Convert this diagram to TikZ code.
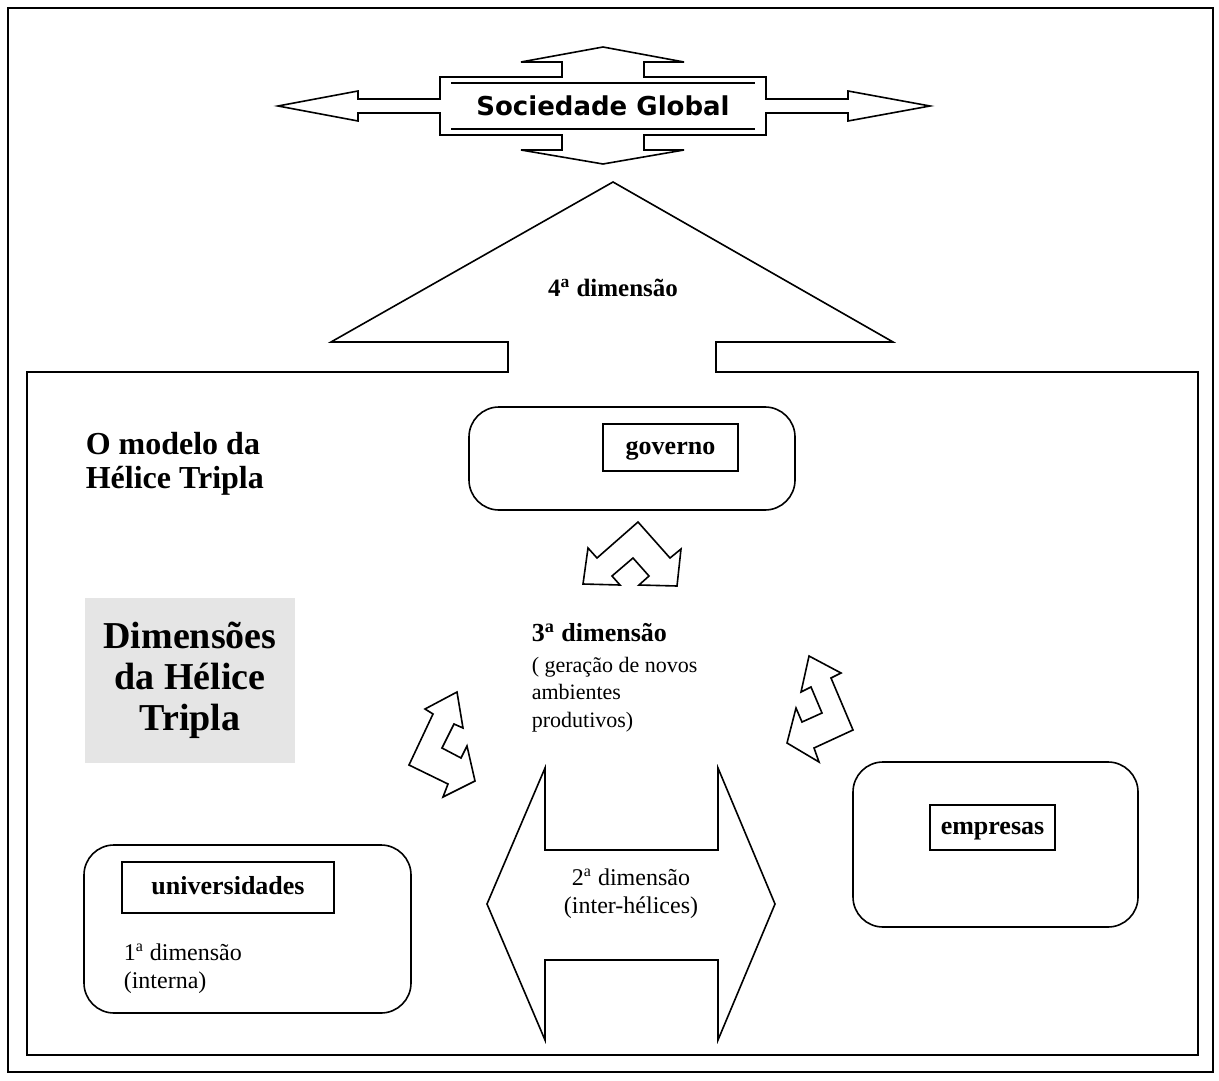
\documentclass[tikz,border=0pt]{standalone}
\usepackage{fontspec}
\setmainfont{Liberation Serif}
\newfontfamily\globalfont{DejaVu Sans}
\newcommand{\ord}{\textsuperscript{a}}

\begin{document}
\begin{tikzpicture}[x=0.5pt,y=-0.5pt,line width=0.8pt,line join=miter,
    helix/.style={rectangle,draw,rounded corners=15pt,inner sep=0pt},
    tagbox/.style={rectangle,draw,inner sep=0pt,text height=1.6ex,text depth=0.1ex,
      font=\fontsize{13}{15}\selectfont\bfseries},
    plain/.style={inner sep=0pt,font=\fontsize{12}{13.8}\selectfont}]
    \useasboundingbox (0,0) rectangle (1219,1080);
    % frames
    \draw (8,8) rectangle (1213,1072);
    \draw (27,372) -- (508,372) -- (508,342) -- (331,342) -- (613,182) -- (893,342)
      -- (716,342) -- (716,372) -- (1198,372) -- (1198,1055) -- (27,1055) -- cycle;
    % sociedade global
    \draw (278,106) -- (358,91) -- (358,99) -- (440,99) -- (440,77) -- (562,77) -- (562,62)
      -- (521,62) -- (603,47) -- (684,62) -- (644,62) -- (644,77) -- (766,77) -- (766,99)
      -- (848,99) -- (848,91) -- (930,106) -- (848,121) -- (848,113) -- (766,113) -- (766,135)
      -- (644,135) -- (644,150) -- (684,150) -- (603,164) -- (521,150) -- (562,150)
      -- (562,135) -- (440,135) -- (440,113) -- (358,113) -- (358,121) -- cycle;
    \draw (451,83) -- (755,83);
    \draw (451,129) -- (755,129);
    \node (soc) at (603,106) [font=\globalfont\bfseries\fontsize{13}{15}\selectfont] {Sociedade Global};
    \node (d4) at (613,288) [font=\fontsize{12.5}{15}\selectfont\bfseries] {4\ord{} dimensão};
    % titles
    \node (modelo) at (85,431) [anchor=north west,align=left,inner sep=0pt,
      font=\fontsize{16}{17}\selectfont\bfseries] {O modelo da\\Hélice Tripla};
    \node (dim) at (190,680.5) [rectangle,fill=black!10,minimum width=105pt,minimum height=82.5pt,
      align=center,font=\fontsize{19}{20.5}\selectfont\bfseries] {Dimensões\\da Hélice\\Tripla};
    % helices
    \node (gov) at (632,458.5) [helix,minimum width=163pt,minimum height=51.5pt] {};
    \node (govt) at (670.5,447.5) [tagbox,minimum width=67.5pt,minimum height=23.5pt] {governo};
    \node (emp) at (995.5,844.5) [helix,minimum width=142.5pt,minimum height=82.5pt] {};
    \node (empt) at (992.5,827.5) [tagbox,minimum width=62.5pt,minimum height=22.5pt] {empresas};
    \node (uni) at (247.5,929) [helix,minimum width=163.5pt,minimum height=84pt] {};
    \node (unit) at (228,887.5) [tagbox,minimum width=106pt,minimum height=25.5pt] {universidades};
    \node (d1) at (123,943) [plain,anchor=north west,align=left] {1\ord{} dimensão\\(interna)};
    % 3rd dimension
    \node (d3) at (531,641) [anchor=base west,inner sep=0pt,font=\fontsize{13}{15}\selectfont\bfseries] {3\ord{} dimensão};
    \node (d3t) at (531,656) [plain,anchor=north west,align=left,font=\fontsize{11}{13.8}\selectfont]
      {( geração de novos\\ambientes\\produtivos)};
    \draw (638,522) -- (670,558) -- (681,549) -- (677,586) -- (639,585) -- (649,576) -- (633,558)
      -- (612,576) -- (620,585) -- (583,584) -- (588,548) -- (597,558) -- cycle;
    \draw (457,692) -- (463,728) -- (454,724) -- (442,748) -- (461,758) -- (467,746) -- (475,781)
      -- (443,797) -- (448,784) -- (409,765) -- (433,714) -- (425,709) -- cycle;
    \draw (809,656) -- (841,673) -- (831,678) -- (853,730) -- (814,748) -- (819,762) -- (787,743)
      -- (796,708) -- (802,722) -- (822,713) -- (811,687) -- (801,692) -- cycle;
    % 2nd dimension
    \draw (487,904) -- (545,768) -- (545,850) -- (718,850) -- (718,768) -- (775,904)
      -- (718,1040) -- (718,960) -- (545,960) -- (545,1040) -- cycle;
    \node (d2) at (631,893.5) [plain,align=center] {2\ord{} dimensão\\(inter-hélices)};
\end{tikzpicture}
\end{document}
